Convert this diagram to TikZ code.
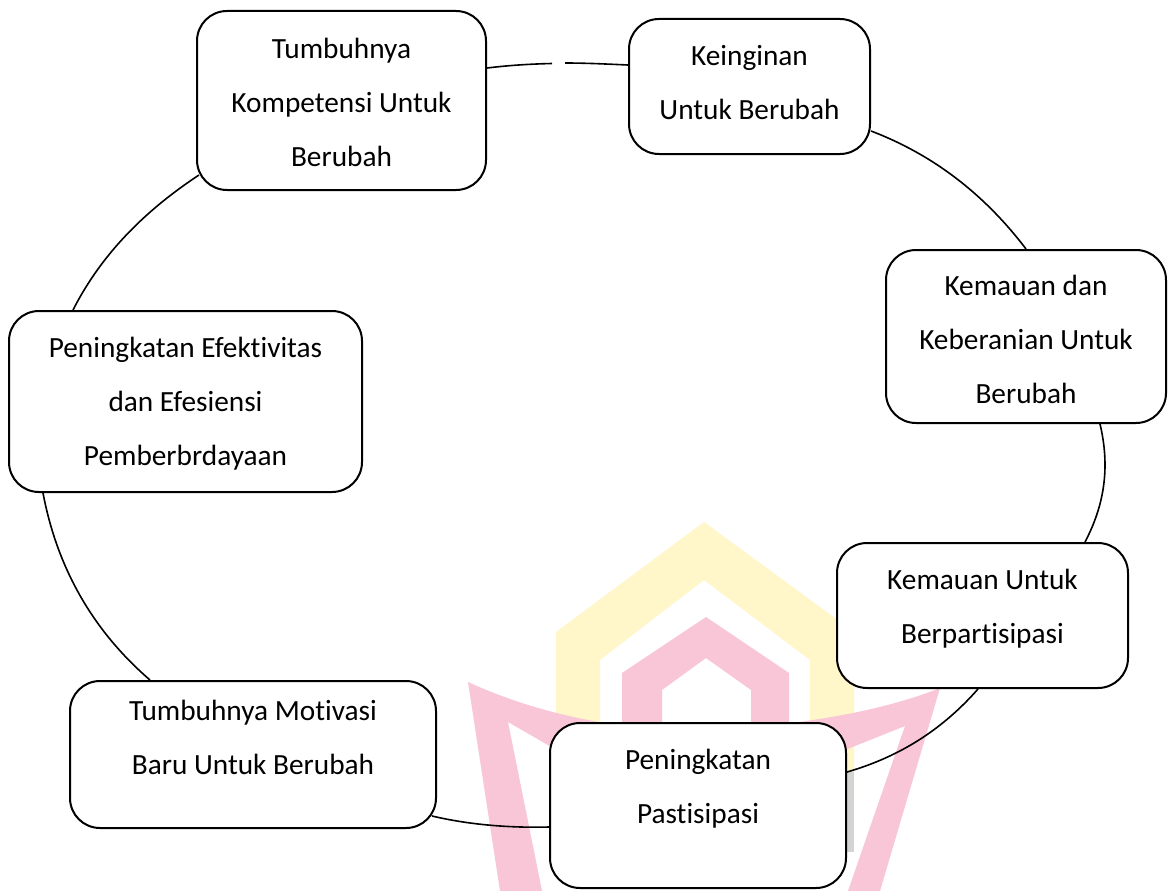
\documentclass[tikz,border=0pt]{standalone}
\usepackage{fontspec}
\setmainfont{Carlito}[Ligatures=NoCommon]
\usetikzlibrary{calc}
\definecolor{wmyellow}{RGB}{255,246,202}
\definecolor{wmpink}{RGB}{248,198,214}
\definecolor{wmgrey}{RGB}{212,212,212}
\newcommand{\mytxt}[2]{\raisebox{#1pt}[\height][\depth]{\begin{tabular}{@{}c@{}}#2\end{tabular}}}
\tikzset{
  cbox/.style={draw=black, line width=2pt, fill=white, rounded corners=30pt,
    inner sep=0pt, font=\fontsize{29.3}{54}\selectfont, text=black},
  conn/.style={draw=black, line width=1.6pt},
  wmy/.style={fill=wmyellow, draw=none},
  wmp/.style={fill=wmpink, draw=none}
}
\begin{document}
\begin{tikzpicture}[x=1pt,y=-1pt]
\fill[white] (0,0) rectangle (1168,891);
\useasboundingbox (0,0) rectangle (1168,891);
% watermark
\fill[wmy] (556,800) -- (556,632) -- (704,522) -- (854,632) -- (854,800) -- (810,800)
  -- (810,660) -- (704,580) -- (600,660) -- (600,800) -- cycle;
\fill[wmp] (622,800) -- (622,673) -- (706,617) -- (789,673) -- (789,800) -- (751,800)
  -- (751,690) -- (706,658) -- (662,690) -- (662,800) -- cycle;
\fill[wmp] (468,682) -- (500,891) -- (542,891) -- (508,722) -- (560,752) -- (700,780)
  -- (840,752) -- (905,726) -- (848,891) -- (880,891) -- (940,688)
  .. controls (880,712) and (800,725) .. (700,732)
  .. controls (620,730) and (540,715) .. cycle;
\fill[wmgrey] (847,772) rectangle (854,852);
% boxes
\node[cbox, minimum width=289pt, minimum height=179pt] (A) at (341.5,100.5)
  {\mytxt{-1}{Tumbuhnya\\Kompetensi Untuk\\Berubah}};
\node[cbox, minimum width=241pt, minimum height=135pt] (B) at (749.5,86.5)
  {\mytxt{5}{Keinginan\\Untuk Berubah}};
\node[cbox, minimum width=280pt, minimum height=173pt] (C) at (1026,336.5)
  {\mytxt{-2.5}{Kemauan dan\\Keberanian Untuk\\Berubah}};
\node[cbox, minimum width=291pt, minimum height=145pt] (D) at (982.5,615.5)
  {\mytxt{9.5}{Kemauan Untuk\\Berpartisipasi}};
\node[cbox, minimum width=296pt, minimum height=165pt] (E) at (698,805.5)
  {\mytxt{19.5}{Peningkatan\\Pastisipasi}};
\node[cbox, minimum width=366pt, minimum height=147pt] (F) at (253,754.5)
  {\mytxt{17.5}{Tumbuhnya Motivasi\\Baru Untuk Berubah}};
\node[cbox, minimum width=353pt, minimum height=181pt] (G) at (185.5,401.5)
  {\mytxt{1}{Peningkatan Efektivitas\\dan Efesiensi\\Pemberbrdayaan}};
% connectors
\coordinate (gapL) at (552,63.5);
\coordinate (gapR) at (565,63);
\draw[conn] (A.east |- 0,68) .. controls +(25,-3) and +(-20,0.5) .. (gapL);
\draw[conn] (gapR) .. controls +(20,0) and +(-22,-1) .. (B.west |- 0,65);
\draw[conn] (B.east |- 0,131) .. controls +(63,24) and +(-41,-54) .. (C.north -| 1026,0);
\draw[conn] (C.south -| 1100,0) .. controls +(10,42) and +(20,-38) .. (D.north -| 1085,0);
\draw[conn] (D.south -| 978,0) .. controls +(-36,41) and +(52,-15) .. (E.east |- 0,772);
\draw[conn] (E.west |- 0,827) .. controls +(-38,1) and +(38,9) .. ($(F.south east)+(-5,-13)$);
\draw[conn] (F.north -| 150,0) .. controls +(-58,-50) and +(14,74) .. (G.south -| 43,0);
\draw[conn] (G.north -| 73,0) .. controls +(29,-57) and +(-53,35) .. ($(A.south west)+(3,-16)$);
\end{tikzpicture}
\end{document}
